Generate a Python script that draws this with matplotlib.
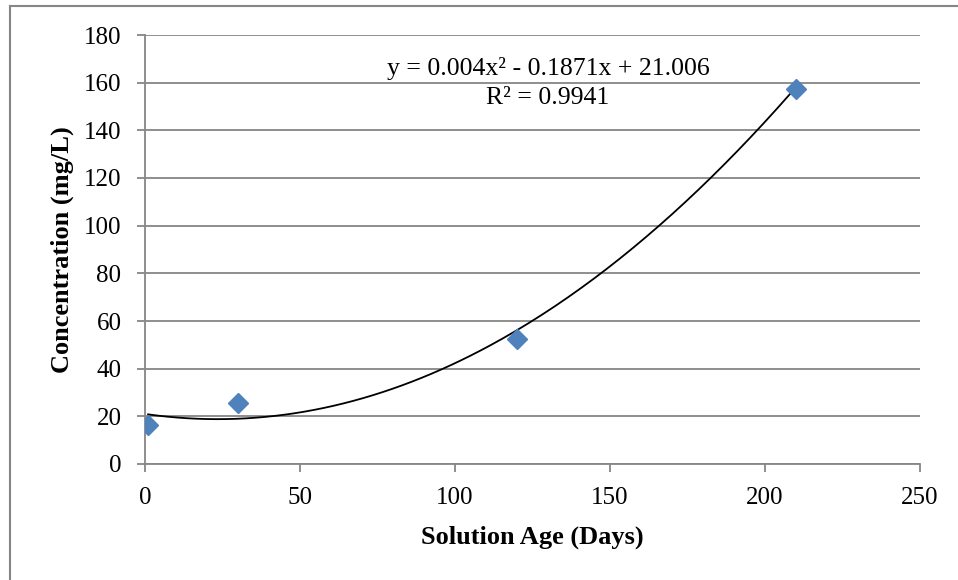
import numpy as np
import matplotlib
matplotlib.use("Agg")
from matplotlib import pyplot as plt
from matplotlib.lines import Line2D

plt.rcParams['font.family'] = ['Liberation Serif', 'DejaVu Serif']

# measured data
age_days = [1, 30, 120, 210]
concentration = [16.5, 25.5, 52.5, 157.5]

# Excel quadratic trendline coefficients
coef = [0.004, -0.1871, 21.006]
r_squared = 0.9941

x_ticks = [0, 50, 100, 150, 200, 250]
y_ticks = [0, 20, 40, 60, 80, 100, 120, 140, 160, 180]

grey = '#868686'

fig = plt.figure(figsize=(9.58, 5.80), dpi=100)
ax = fig.add_axes([145 / 958, 1 - 464 / 580, 775 / 958, 429 / 580])

xs = np.linspace(min(age_days), max(age_days), 200)
ax.plot(xs, np.polyval(coef, xs), color='black', lw=1.3, zorder=3)
ax.plot(age_days, concentration, ls='none', marker='D', ms=10.5,
        color='#4F81BD', zorder=4)

ax.set_xlim(0, 250)
ax.set_ylim(0, 180)
ax.set_xticks(x_ticks)
ax.set_yticks(y_ticks)
ax.yaxis.grid(True, color=grey, lw=1.3)
ax.set_axisbelow(True)
for side in ['top', 'right']:
    ax.spines[side].set_visible(False)
for side in ['left', 'bottom']:
    ax.spines[side].set_color(grey)
    ax.spines[side].set_linewidth(1.3)
ax.tick_params(direction='out', length=6, width=1.3, color=grey, labelsize=18)
ax.tick_params(axis='y', pad=11)
ax.tick_params(axis='x', pad=10.5)

ax.set_xlabel('Solution Age (Days)', fontsize=19, fontweight='bold', labelpad=12)
ax.set_ylabel('Concentration (mg/L)', fontsize=19, fontweight='bold', labelpad=7)

eq = 'y = 0.004x² - 0.1871x + 21.006'
ax.text(130, 166, eq, fontsize=18.5, ha='center', va='center')
ax.text(130, 153.5, 'R² = %g' % r_squared, fontsize=18.5, ha='center', va='center')

# outer chart border (only left and top visible)
fig.add_artist(Line2D([10 / 958, 10 / 958], [0, 1 - 6 / 580],
                      transform=fig.transFigure, color=grey, lw=1.5))
fig.add_artist(Line2D([10 / 958, 1], [1 - 6 / 580, 1 - 6 / 580],
                      transform=fig.transFigure, color=grey, lw=1.5))

fig.savefig('out.png', dpi=100)
